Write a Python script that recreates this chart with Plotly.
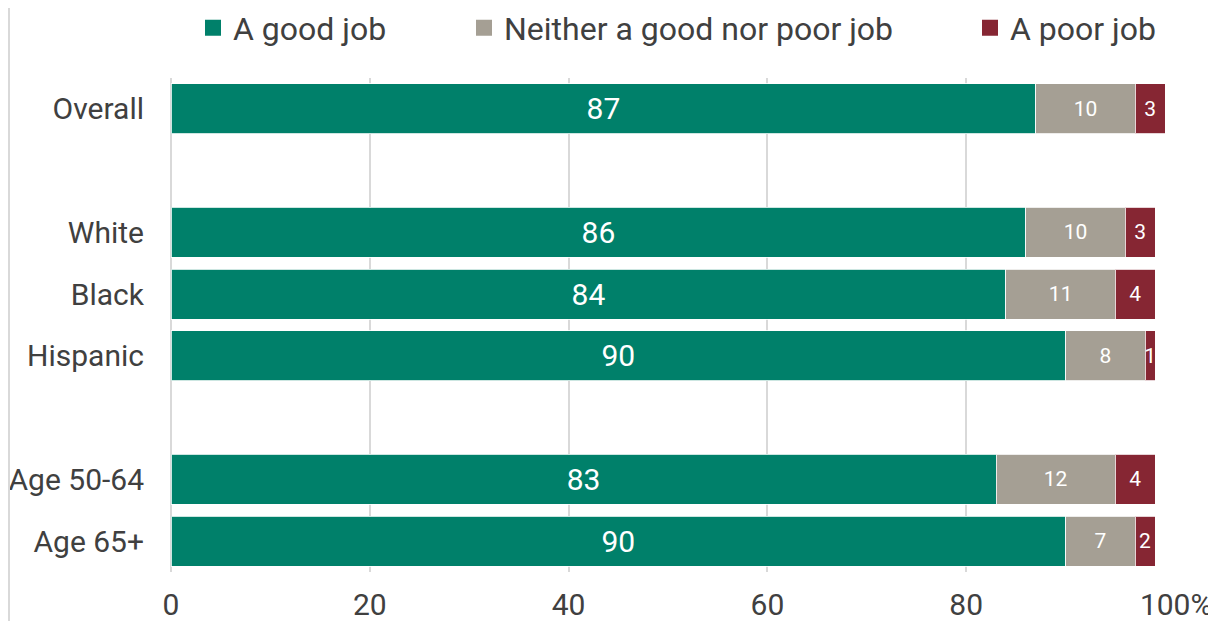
import plotly.graph_objects as go

categories = ["Overall", " ", "White", "Black", "Hispanic", "  ", "Age 50-64", "Age 65+"]
good = [87, None, 86, 84, 90, None, 83, 90]
neither = [10, None, 10, 11, 8, None, 12, 7]
poor = [3, None, 3, 4, 1, None, 4, 2]
series_names = ["A good job", "Neither a good nor poor job", "A poor job"]
x_tickvals = [0, 20, 40, 60, 80, 100]
x_ticktext = ["0", "20", "40", "60", "80", "\u00a0\u00a0\u00a0100%"]

colors = ["#00806A", "#A59F94", "#862633"]
label_sizes = [30, 21, 21]
FONT = "Roboto"
TEXT = "#404040"

# page body has an 8px margin: compensate so the plot area lands at x 171-1165, y 78-572
OFF = 8
L, R, T, B = 171 - OFF, 1216 - 1165 + OFF, 78 - OFF, 621 - 572 + OFF
PW, PH = 1165 - 171, 572 - 78

fig = go.Figure()
for name, vals, col, fs in zip(series_names, [good, neither, poor], colors, label_sizes):
    fig.add_trace(go.Bar(
        y=categories, x=vals, orientation="h", name=name,
        marker=dict(color=col, line=dict(color="rgba(255,255,255,0.8)", width=1)),
        text=["" if v is None else str(v) for v in vals],
        textposition="inside", insidetextanchor="middle", textangle=0,
        constraintext="none",
        insidetextfont=dict(color="white", size=fs, family=FONT),
        showlegend=False, width=0.81, hoverinfo="skip",
    ))

legend_x = [(207 - 171) / PW, (478 - 171) / PW, (984 - 171) / PW]
legend_keys = ["legend", "legend2", "legend3"]
for name, col, lk in zip(series_names, colors, legend_keys):
    fig.add_trace(go.Scatter(
        x=[None], y=[None], mode="markers", name=name,
        marker=dict(symbol="square", size=18, color=col),
        showlegend=True, legend=lk,
    ))

leg_common = dict(orientation="h", yanchor="middle", y=1.0 + (78 - 28) / PH,
                  xanchor="left", font=dict(size=32, color=TEXT, family=FONT),
                  bgcolor="rgba(0,0,0,0)", itemwidth=30, tracegroupgap=0)
layout_legends = {}
for lk, lx in zip(legend_keys, legend_x):
    d = dict(leg_common)
    d["x"] = lx - 14 / PW
    layout_legends[lk] = d

fig.update_layout(
    barmode="stack",
    width=1216, height=621,
    margin=dict(l=L, r=R, t=T, b=B, pad=0, autoexpand=False),
    paper_bgcolor="white", plot_bgcolor="white",
    font=dict(family=FONT, color=TEXT, size=30),
    xaxis=dict(range=[0, 100], tickvals=x_tickvals, ticktext=x_ticktext,
               showgrid=True, gridcolor="#D9D9D9", gridwidth=1.5,
               zeroline=True, zerolinecolor="#D9D9D9", zerolinewidth=1.5,
               showline=False, ticks="", ticklabelstandoff=12,
               tickfont=dict(size=30, color=TEXT, family=FONT)),
    yaxis=dict(type="category", categoryorder="array", categoryarray=categories,
               autorange="reversed", showgrid=False, zeroline=False, showline=False,
               ticks="", ticklabelstandoff=26,
               tickfont=dict(size=30, color=TEXT, family=FONT)),
    shapes=[dict(type="line", xref="paper", yref="paper",
                 x0=(1 - L) / PW, x1=(1 - L) / PW,
                 y0=-B / PH, y1=1 + T / PH,
                 line=dict(color="#D9D9D9", width=2))],
    **layout_legends,
)

fig.write_html("out.html")
